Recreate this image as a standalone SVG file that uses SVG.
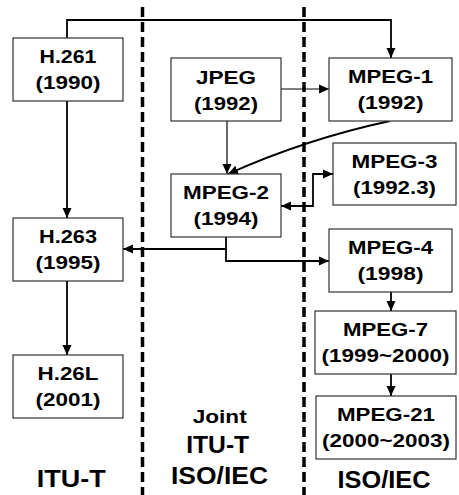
<svg xmlns="http://www.w3.org/2000/svg" width="459" height="495" viewBox="0 0 459 495">
<style>
.box{fill:#fff;stroke:#333;stroke-width:1.2}
.t{font-family:"Liberation Sans",Arial,sans-serif;font-weight:bold;font-size:19px;text-anchor:middle;fill:#000}
.lbl{font-family:"Liberation Sans",Arial,sans-serif;font-weight:bold;text-anchor:middle;fill:#000}
.sep{stroke:#000;stroke-width:3.5;stroke-dasharray:10 5;fill:none}
.c{stroke:#000;stroke-width:1.8;fill:none}
.c1{stroke:#000;stroke-width:1.2;fill:none}
</style>
<defs>
<marker id="ah" markerUnits="userSpaceOnUse" markerWidth="11" markerHeight="10" refX="10" refY="5" orient="auto-start-reverse" viewBox="0 0 11 10">
<path d="M0,0.5 L10,5 L0,9.5 z" fill="#000"/>
</marker>
</defs>
<rect width="459" height="495" fill="#fff"/>
<g id="separators">
<line class="sep" x1="142.5" y1="7" x2="142.5" y2="495"/>
<line class="sep" x1="304" y1="7" x2="304" y2="495"/>
</g>
<g id="connectors">
<path class="c" d="M67,38 V20 H391 V58" marker-end="url(#ah)"/>
<path class="c" d="M67,101 V218" marker-end="url(#ah)"/>
<path class="c" d="M67,281 V355" marker-end="url(#ah)"/>
<path class="c1" d="M281,89 H329" marker-end="url(#ah)"/>
<path class="c1" d="M227,121 V174" marker-end="url(#ah)"/>
<path class="c" d="M390,121 Q306,139 228,174" marker-end="url(#ah)"/>
<path class="c" d="M281,206 H313 V174 H333" marker-start="url(#ah)" marker-end="url(#ah)"/>
<path class="c" d="M226,237 V249 H123" marker-end="url(#ah)"/>
<path class="c" d="M226,249 V261 H329" marker-end="url(#ah)"/>
<path class="c" d="M391,292 V311" marker-end="url(#ah)"/>
<path class="c" d="M391,374 V396" marker-end="url(#ah)"/>
</g>
<g id="h261"><rect class="box" x="13" y="38" width="110" height="63"/>
<text class="t" x="68" y="63" textLength="57" lengthAdjust="spacingAndGlyphs">H.261</text>
<text class="t" x="68" y="89" textLength="65" lengthAdjust="spacingAndGlyphs">(1990)</text></g>
<g id="h263"><rect class="box" x="13" y="218" width="110" height="63"/>
<text class="t" x="68" y="243" textLength="58" lengthAdjust="spacingAndGlyphs">H.263</text>
<text class="t" x="68" y="269" textLength="65" lengthAdjust="spacingAndGlyphs">(1995)</text></g>
<g id="h26l"><rect class="box" x="13" y="355" width="110" height="63"/>
<text class="t" x="68" y="380" textLength="61" lengthAdjust="spacingAndGlyphs">H.26L</text>
<text class="t" x="68" y="406" textLength="65" lengthAdjust="spacingAndGlyphs">(2001)</text></g>
<g id="jpeg"><rect class="box" x="171" y="58" width="110" height="63"/>
<text class="t" x="226" y="84" textLength="60" lengthAdjust="spacingAndGlyphs">JPEG</text>
<text class="t" x="226" y="110" textLength="64" lengthAdjust="spacingAndGlyphs">(1992)</text></g>
<g id="mpeg2"><rect class="box" x="171" y="174" width="110" height="63"/>
<text class="t" x="226" y="199" textLength="86" lengthAdjust="spacingAndGlyphs">MPEG-2</text>
<text class="t" x="226" y="225" textLength="65" lengthAdjust="spacingAndGlyphs">(1994)</text></g>
<g id="mpeg1"><rect class="box" x="329" y="58" width="123" height="63"/>
<text class="t" x="390.5" y="83" textLength="85" lengthAdjust="spacingAndGlyphs">MPEG-1</text>
<text class="t" x="390.5" y="109" textLength="66" lengthAdjust="spacingAndGlyphs">(1992)</text></g>
<g id="mpeg3"><rect class="box" x="333" y="143" width="123" height="62"/>
<text class="t" x="394.5" y="168" textLength="86" lengthAdjust="spacingAndGlyphs">MPEG-3</text>
<text class="t" x="394.5" y="194" textLength="83" lengthAdjust="spacingAndGlyphs">(1992.3)</text></g>
<g id="mpeg4"><rect class="box" x="329" y="229" width="123" height="63"/>
<text class="t" x="390.5" y="254" textLength="85" lengthAdjust="spacingAndGlyphs">MPEG-4</text>
<text class="t" x="390.5" y="280" textLength="66" lengthAdjust="spacingAndGlyphs">(1998)</text></g>
<g id="mpeg7"><rect class="box" x="315" y="311" width="141" height="63"/>
<text class="t" x="385.5" y="336" textLength="85" lengthAdjust="spacingAndGlyphs">MPEG-7</text>
<text class="t" x="385.5" y="362" textLength="128" lengthAdjust="spacingAndGlyphs">(1999~2000)</text></g>
<g id="mpeg21"><rect class="box" x="316" y="396" width="140" height="63"/>
<text class="t" x="386" y="421" textLength="98" lengthAdjust="spacingAndGlyphs">MPEG-21</text>
<text class="t" x="386" y="447" textLength="128" lengthAdjust="spacingAndGlyphs">(2000~2003)</text></g>
<g id="labels">
<text class="lbl" x="71.3" y="487" font-size="24" textLength="69" lengthAdjust="spacingAndGlyphs">ITU-T</text>
<text class="lbl" x="219.7" y="423" font-size="18" textLength="54" lengthAdjust="spacingAndGlyphs">Joint</text>
<text class="lbl" x="217.7" y="453" font-size="24" textLength="63" lengthAdjust="spacingAndGlyphs">ITU-T</text>
<text class="lbl" x="219.5" y="484" font-size="24" textLength="97" lengthAdjust="spacingAndGlyphs">ISO/IEC</text>
<text class="lbl" x="384" y="488" font-size="23" textLength="93" lengthAdjust="spacingAndGlyphs">ISO/IEC</text>
</g>
</svg>
